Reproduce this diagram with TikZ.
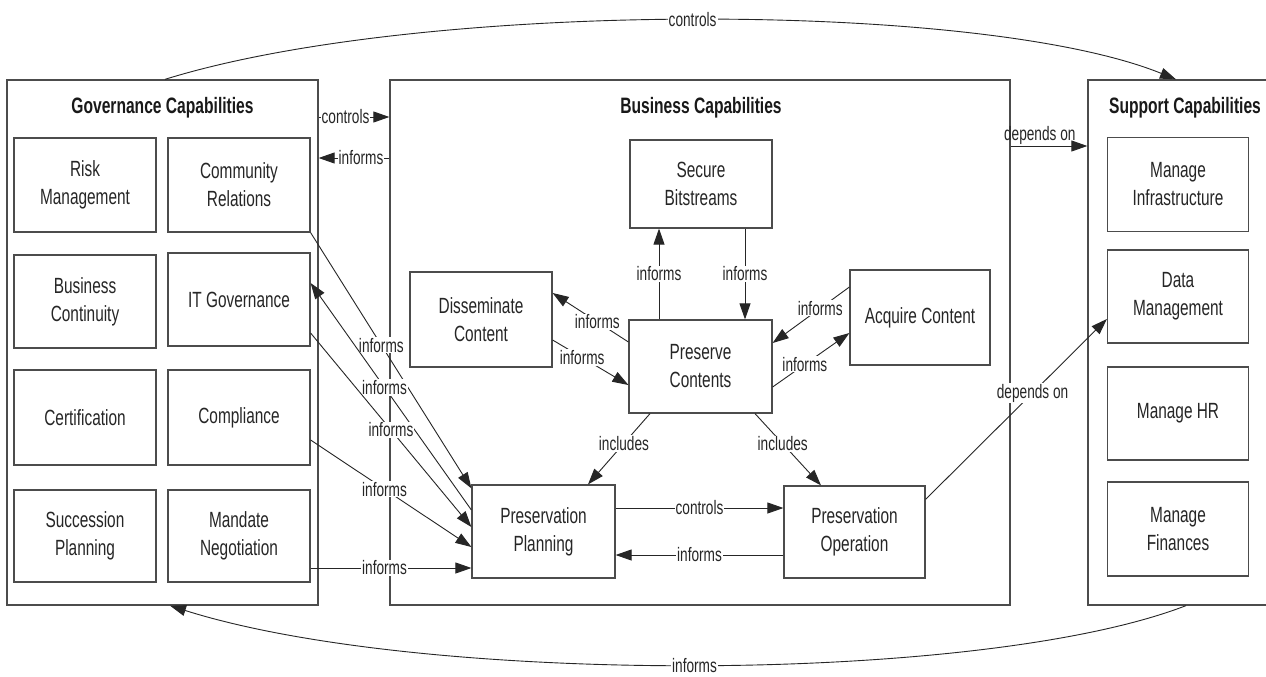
\documentclass[tikz,border=0pt]{standalone}
\usepackage{fontspec}
\setmainfont{Liberation Sans}[FakeStretch=0.7]
\usetikzlibrary{arrows.meta,calc}

\newcommand{\bxfnt}{\fontsize{22}{28}\selectfont}
\newcommand{\lblfnt}{\fontsize{19.5}{21}\selectfont}
\newcommand{\ttlfnt}{\fontsize{22.3}{25}\selectfont\bfseries}

\tikzset{
  container/.style={draw=black!70, line width=1.3pt, fill=white, inner sep=0pt},
  capbox/.style={draw=black!70, line width=1.2pt, fill=white, align=center,
    font=\bxfnt, text=black!85, inner sep=2pt,
    minimum width=142pt, minimum height=94pt},
  heading/.style={font=\ttlfnt, text=black!90, inner sep=1pt},
  conn/.style={draw=black!85, line width=0.9pt,
    -{Triangle[length=16pt,width=11pt]}},
  lbl/.style={fill=white, inner sep=1pt, font=\lblfnt, text=black!85}
}

\begin{document}
\begin{tikzpicture}[x=1pt,y=-1pt]
\clip (0,0) rectangle (1266,677);
\fill[white] (0,0) rectangle (1266,677);

% three capability groups
\node[container, minimum width=311pt, minimum height=525pt] (gov) at (162.5,342.5) {};
\node[container, minimum width=620pt, minimum height=525pt] (bus) at (700,342.5) {};
\node[container, minimum width=192pt, minimum height=525pt] (sup) at (1184,342.5) {};

\node[heading] (govtitle) at (162.5,108) {Governance Capabilities};
\node[heading] (bustitle) at (701,108) {Business Capabilities};
\node[heading] (suptitle) at (1185,108) {Support Capabilities};

% governance capabilities
\node[capbox] (risk)    at (85,185)    {Risk\\Management};
\node[capbox] (comm)    at (239,185)   {Community\\Relations};
\node[capbox, minimum height=93pt] (buscont) at (85,301.5)  {Business\\Continuity};
\node[capbox, minimum height=93pt] (itgov)   at (239,299.5) {IT Governance};
\node[capbox, minimum height=95pt] (cert)    at (85,417.5)  {Certification};
\node[capbox, minimum height=95pt] (compl)   at (239,417.5) {Compliance};
\node[capbox, minimum height=92pt] (succ)    at (85,536)    {Succession\\Planning};
\node[capbox, minimum height=92pt] (mandate) at (239,536)   {Mandate\\Negotiation};

% business capabilities
\node[capbox, minimum height=88pt] (secure) at (701,184)    {Secure\\Bitstreams};
\node[capbox, minimum height=95pt] (dissem) at (481,319.5)  {Disseminate\\Content};
\node[capbox, minimum width=140pt, minimum height=95pt] (acq) at (920,317.5) {Acquire Content};
\node[capbox, minimum width=143pt, minimum height=93pt] (pres) at (700.5,366.5) {Preserve\\Contents};
\node[capbox, minimum width=143pt, minimum height=93pt] (plan) at (543.5,531.5) {Preservation\\Planning};
\node[capbox, minimum width=141pt, minimum height=92pt] (oper) at (854.5,532)   {Preservation\\Operation};

% support capabilities
\node[capbox, minimum width=141pt] (infra) at (1178,184.5) {Manage\\Infrastructure};
\node[capbox, minimum width=141pt, minimum height=93pt] (data) at (1178,296.5) {Data\\Management};
\node[capbox, minimum width=141pt, minimum height=93pt] (hr)   at (1178,413.5) {Manage HR};
\node[capbox, minimum width=141pt, minimum height=94pt] (fin)  at (1178,529)   {Manage\\Finances};

% relations between the groups
\draw[conn] ([xshift=2.5pt]gov.north) .. controls (420,0) and (980,0) .. ([xshift=-8pt]sup.north)
  node[lbl, pos=0.5] {controls};
\draw[conn] ([xshift=2pt]sup.south) .. controls (980,685) and (420,685) .. ([xshift=7.5pt]gov.south)
  node[lbl, pos=0.5] {informs};
\draw[conn] ([yshift=225.5pt]gov.east) -- node[lbl, pos=0.38] {controls} ([yshift=225.5pt]bus.west);
\draw[conn] ([yshift=184.5pt]bus.west) -- node[lbl, pos=0.4] {informs} ([yshift=184.5pt]gov.east);
\draw[conn] ([yshift=196.5pt]bus.east) -- node[lbl, pos=0.38, above=0pt, fill=none] {depends on} ([yshift=196.5pt]sup.west);

% governance to preservation planning
\coordinate (plmand) at ([yshift=-36.5pt]plan.west);
\draw[conn] (comm.south east) -- node[lbl, pos=0.44] {informs} ([yshift=-4pt]plan.north west);
\draw[conn] ([yshift=21.5pt]plan.west) -- node[lbl, pos=0.54] {informs} ([yshift=16.5pt]itgov.east);
\draw[conn] ([yshift=-33.5pt]itgov.east) -- node[lbl, pos=0.5] {informs} ([yshift=4.5pt]plan.west);
\draw[conn] ([yshift=-22.5pt]compl.east) -- node[lbl, pos=0.46] {informs} ([yshift=-15.5pt]plan.west);
\draw[conn] (mandate.east |- plmand) -- node[lbl, pos=0.46] {informs} (plmand);

% business internal relations
\draw[conn] ([xshift=-41.5pt]pres.north) -- node[lbl] {informs} ([xshift=-42pt]secure.south);
\draw[conn] ([xshift=44pt]secure.south) -- node[lbl] {informs} ([xshift=44.5pt]pres.north);
\draw[conn] ([yshift=24.5pt]pres.west) -- node[lbl, pos=0.41] {informs} ([yshift=26.5pt]dissem.east);
\draw[conn] ([yshift=-20.5pt]dissem.east) -- node[lbl, pos=0.39] {informs} ([yshift=-18.5pt]pres.west);
\draw[conn] ([yshift=30.5pt]acq.west) -- node[lbl, pos=0.38] {informs} ([yshift=23.5pt]pres.east);
\draw[conn] ([yshift=-20.5pt]pres.east) -- node[lbl, pos=0.42] {informs} ([yshift=-15.5pt]acq.west);
\draw[conn] ([xshift=-50.5pt]pres.south) -- node[lbl, pos=0.42] {includes} ([xshift=44.5pt]plan.north);
\draw[conn] ([xshift=54.5pt]pres.south) -- node[lbl, pos=0.42] {includes} ([xshift=-33.5pt]oper.north);
\draw[conn] ([yshift=23.5pt]plan.east) -- node[lbl, pos=0.5] {controls} ([yshift=24pt]oper.west);
\draw[conn] ([yshift=-23pt]oper.west) -- node[lbl, pos=0.5] {informs} ([yshift=-23.5pt]plan.east);
\draw[conn] ([yshift=-14pt]oper.north east) -- node[lbl, pos=0.59] {depends on} ([yshift=-22.5pt]data.west);
\end{tikzpicture}
\end{document}
